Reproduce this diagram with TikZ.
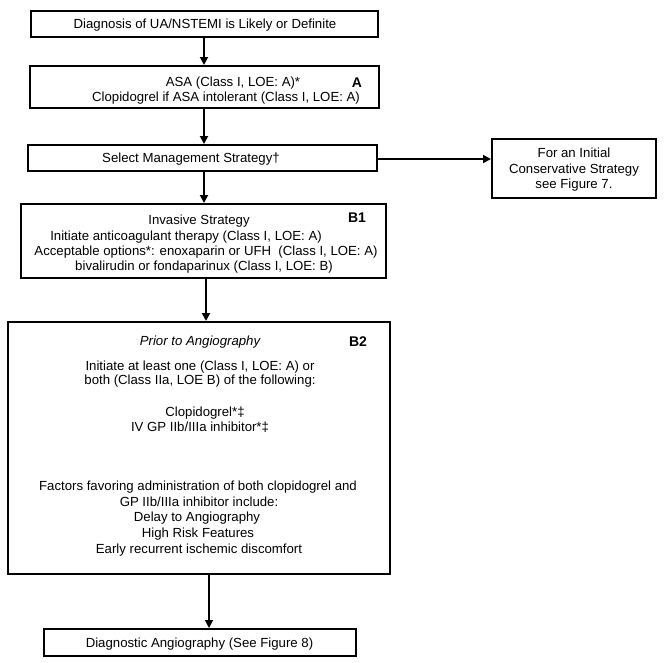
\documentclass[tikz,border=0pt]{standalone}
\usepackage{fontspec}
\setmainfont{Liberation Sans}
\usetikzlibrary{arrows.meta}
\begin{document}
\begin{tikzpicture}[x=1pt,y=-1pt,
  box/.style={draw=black, line width=2pt, inner sep=0pt, fill=none},
  txt/.style={font=\fontsize{13.2}{15.3}\selectfont, inner sep=0pt, anchor=base},
  itxt/.style={txt, font=\fontsize{13.2}{15.3}\selectfont\itshape},
  lbl/.style={font=\fontsize{14}{16}\selectfont\bfseries, inner sep=0pt, anchor=base},
  arr/.style={line width=1.8pt, -{Triangle[length=8pt,width=8pt]}}]
\useasboundingbox (0,0) rectangle (664,662);

% boxes
\node[box, minimum width=347pt, minimum height=26pt] (dx) at (204.5,24) {};
\node[box, minimum width=349pt, minimum height=42pt] (asa) at (204.5,87) {};
\node[box, minimum width=349pt, minimum height=26pt] (sel) at (202.5,158) {};
\node[box, minimum width=164pt, minimum height=59pt] (cons) at (574,168.5) {};
\node[box, minimum width=365pt, minimum height=74pt] (inv) at (203.5,241) {};
\node[box, minimum width=382pt, minimum height=252pt] (pre) at (199,448) {};
\node[box, minimum width=312pt, minimum height=27pt] (ang) at (199.5,642.5) {};

% texts
\node[txt] (dxt) at (205,28.5) {Diagnosis of UA/NSTEMI is Likely or Definite};
\node[txt] (asat1) at (233,86.5) {ASA (Class I, LOE: A)*};
\node[txt] (asat2) at (226,101.5) {Clopidogrel if ASA intolerant (Class I, LOE: A)};
\node[lbl] (la) at (357,87) {A};
\node[txt] (selt) at (191,162.5) {Select Management Strategy†};
\node[txt] (const1) at (574,157.5) {For an Initial};
\node[txt] (const2) at (574,173.5) {Conservative Strategy};
\node[txt] (const3) at (574,188.5) {see Figure 7.};
\node[txt] (invt1) at (199,224.5) {Invasive Strategy};
\node[txt] (invt2) at (186,240.5) {Initiate anticoagulant therapy (Class I, LOE: A)};
\node[txt] (invt3) at (206,255.5) {Acceptable options*: enoxaparin or UFH \ (Class I, LOE: A)};
\node[txt] (invt4) at (204,270.5) {bivalirudin or fondaparinux (Class I, LOE: B)};
\node[lbl] (lb1) at (357,222) {B1};
\node[itxt] (pret1) at (200,345.5) {Prior to Angiography};
\node[lbl] (lb2) at (358,346) {B2};
\node[txt] (pret2) at (200,370.5) {Initiate at least one (Class I, LOE: A) or};
\node[txt] (pret3) at (200,384.5) {both (Class IIa, LOE B) of the following:};
\node[txt] (pret4) at (205,416.5) {Clopidogrel*‡};
\node[txt] (pret5) at (200,431.5) {IV GP IIb/IIIa inhibitor*‡};
\node[txt] (pret6) at (198,490.5) {Factors favoring administration of both clopidogrel and};
\node[txt] (pret7) at (199,506.5) {GP IIb/IIIa inhibitor include:};
\node[txt] (pret8) at (197,521.5) {Delay to Angiography};
\node[txt] (pret9) at (198,537.5) {High Risk Features};
\node[txt] (pret10) at (199,553.5) {Early recurrent ischemic discomfort};
\node[txt] (angt) at (199.5,647) {Diagnostic Angiography (See Figure 8)};

% connector x positions
\coordinate (x1) at (204,0);
\coordinate (x2) at (206,0);
\coordinate (x3) at (209,0);

\draw[arr] (dx.south -| x1) -- (asa.north -| x1);
\draw[arr] (asa.south -| x1) -- (sel.north -| x1);
\draw[arr] (sel.south -| x1) -- (inv.north -| x1);
\draw[arr] (sel.east |- cons) ++(0,-9.5) coordinate (s0) -- (s0 -| cons.west);
\draw[arr] (inv.south -| x2) -- (pre.north -| x2);
\draw[arr] (pre.south -| x3) -- (ang.north -| x3);
\end{tikzpicture}
\end{document}
